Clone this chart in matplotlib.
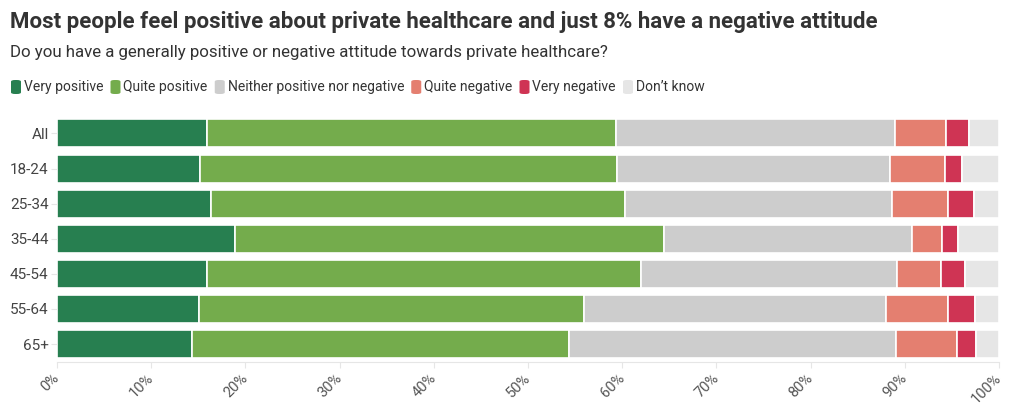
import numpy as np
import matplotlib.pyplot as plt
import matplotlib.transforms as mtransforms
from matplotlib.patches import FancyBboxPatch

plt.rcParams['font.family'] = ['Roboto', 'DejaVu Sans']

groups = ['All', '18-24', '25-34', '35-44', '45-54', '55-64', '65+']
series = ['Very positive', 'Quite positive', 'Neither positive nor negative',
          'Quite negative', 'Very negative', 'Don\u2019t know']
very_pos = [15.9, 15.2, 16.3, 18.9, 15.9, 15.1, 14.3]
quite_pos = [43.4, 44.3, 44.0, 45.5, 46.1, 40.8, 40.1]
neither = [29.7, 28.9, 28.3, 26.4, 27.2, 32.1, 34.7]
quite_neg = [5.4, 5.9, 6.0, 3.1, 4.6, 6.6, 6.4]
very_neg = [2.4, 1.8, 2.7, 1.7, 2.6, 2.8, 2.1]
dont_know = [3.2, 3.9, 2.7, 4.4, 3.6, 2.6, 2.4]
colors = ['#277f50', '#74ac4c', '#cdcdcd', '#e47f70', '#cf3454', '#e6e6e6']

values = [very_pos, quite_pos, neither, quite_neg, very_neg, dont_know]

fig = plt.figure(figsize=(10.2, 4.17), dpi=100)
ax = fig.add_axes([57/1020, 1-361.6/417, 942/1020, 245.7/417])

y = np.arange(len(groups))
left = np.zeros(len(groups))
for vals, c, name in zip(values, colors, series):
    ax.barh(y, vals, left=left, height=0.8, color=c, edgecolor='white',
            linewidth=1.2, label=name)
    left += np.array(vals)

ax.set_xlim(0, 100)
ax.set_ylim(len(groups)-0.5, -0.5)
ax.set_yticks(y)
ax.set_yticklabels(groups, fontsize=11, color='#444444')
ax.set_xticks(np.arange(0, 101, 10))
ax.set_xticklabels([f'{v}%' for v in range(0, 101, 10)], fontsize=10.5,
                   color='#555555', rotation=45, ha='right', va='center',
                   rotation_mode='anchor')
shift = mtransforms.ScaledTranslation(5/100, 0, fig.dpi_scale_trans)
for lab in ax.get_xticklabels():
    lab.set_transform(lab.get_transform() + shift)
ax.tick_params(axis='x', length=4.5, color='#e6e6e6', pad=6)
ax.tick_params(axis='y', length=4, color='#e6e6e6', pad=2)
for s in ['top', 'right', 'left']:
    ax.spines[s].set_visible(False)
ax.spines['bottom'].set_color('#e6e6e6')

fig.text(10/1020, 1-22/417, 'Most people feel positive about private healthcare and just 8% have a negative attitude',
         fontsize=16, fontweight='bold', color='#333333', va='center')
fig.text(10/1020, 1-53/417, 'Do you have a generally positive or negative attitude towards private healthcare?',
         fontsize=12.2, color='#333333', va='center')

# legend drawn by hand
fig.canvas.draw()
renderer = fig.canvas.get_renderer()
x = 11
ly = 87
for c, name in zip(colors, series):
    fig.patches.append(FancyBboxPatch((x/1020, 1-(ly+7)/417), 10/1020, 14/417,
                                      boxstyle='round,pad=0,rounding_size=0.004',
                                      transform=fig.transFigure, facecolor=c,
                                      edgecolor='none'))
    t = fig.text((x+13)/1020, 1-ly/417, name, fontsize=10, color='#333333', va='center')
    bb = t.get_window_extent(renderer)
    x = bb.x1 + 7

fig.savefig('out.png', dpi=100, facecolor='white')
